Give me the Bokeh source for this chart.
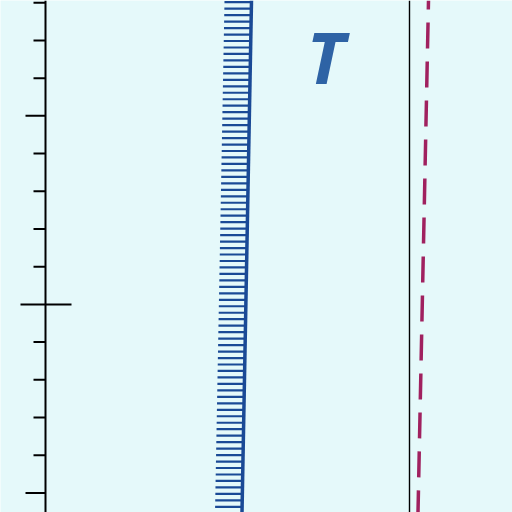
import numpy as np
from bokeh.plotting import figure
from bokeh.models import Range1d
from bokeh.core.properties import value
from bokeh.embed import file_html
from bokeh.resources import INLINE

# ---- data ----
axis_ticks = list(range(-5, 9))      # tick values on the vertical scale
medium_ticks = [-5, 5]
major_tick = 0
y_top, y_bottom = 8.06, -5.52

wall_x = [251, 241.5]                # hatched wall: x at top, x at bottom
plate_x = [409, 409]                 # thin black line
dashed_x = [428, 417.5]              # dashed line
label_text = ["T"]
label_x = [325]
label_y = [6.6]

BG = "#e5f9fa"
p = figure(width=512, height=512, x_range=Range1d(0, 512), y_range=Range1d(y_bottom, y_top),
           output_backend="svg", toolbar_location=None, min_border=0)
p.axis.visible = False
p.grid.visible = False
p.outline_line_color = None
p.background_fill_color = BG
p.border_fill_color = BG

# vertical scale
p.segment(x0=[45], y0=[y_bottom], x1=[45], y1=[y_top], line_color="black", line_width=2)
x0s, x1s, ys = [], [], []
for t in axis_ticks:
    if t == major_tick:
        x0s.append(20); x1s.append(71)
    elif t in medium_ticks:
        x0s.append(25); x1s.append(45)
    else:
        x0s.append(33); x1s.append(45)
    ys.append(t)
p.segment(x0=x0s, y0=ys, x1=x1s, y1=ys, line_color="black", line_width=2)

# hatched wall
def wall_at(y):
    f = (y_top - y) / (y_top - y_bottom)
    return wall_x[0] + (wall_x[1] - wall_x[0]) * f

hy = np.arange(8.015, y_bottom - 0.2, -0.1716)
hx1 = [wall_at(y) for y in hy]
hx0 = [x - 27 for x in hx1]
p.segment(x0=hx0, y0=hy, x1=hx1, y1=hy, line_color="#1a4a96", line_width=2.2)
p.line(x=wall_x, y=[y_top, y_bottom], line_color="#1a4a96", line_width=3.5)

# thin black line
p.line(x=plate_x, y=[y_top, y_bottom], line_color="black", line_width=1.4)

# dashed line
p.line(x=dashed_x, y=[y_top, y_bottom], line_color="#a0215f", line_width=3.5,
       line_dash="26 13", line_dash_offset=17)

# label
p.text(x=label_x, y=label_y, text=label_text, text_font=value("Open Sans"),
       text_font_style="bold italic", text_font_size="72px", text_color="#2e63a5",
       text_align="center", text_baseline="alphabetic")

open("out.html", "w").write(file_html(p, INLINE))
